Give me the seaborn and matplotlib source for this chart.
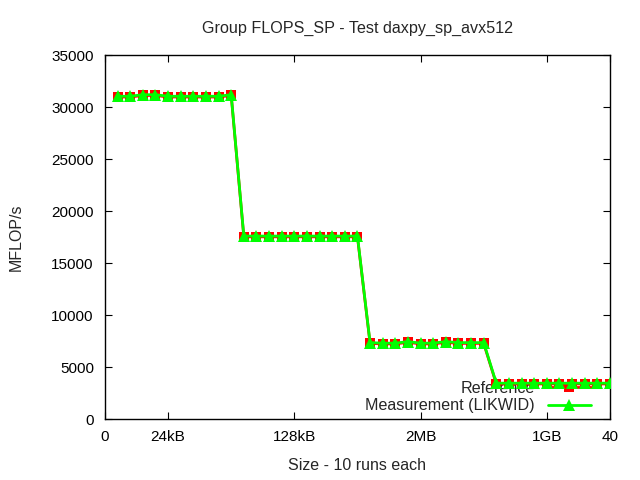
import numpy as np
import pandas as pd
import matplotlib
matplotlib.use("Agg")
import matplotlib.pyplot as plt
import seaborn as sns

# Values
runs = list(range(1, 41))
reference = [30980, 30980, 31130, 31130, 30980, 30980, 30980, 30980, 30980, 31130,
             17530, 17530, 17530, 17530, 17530, 17530, 17530, 17530, 17530, 17530,
             7280, 7230, 7230, 7380, 7230, 7230, 7380, 7280, 7280, 7280,
             3380, 3380, 3380, 3380, 3380, 3380, 3380, 3380, 3380, 3380]
measurement = [31050, 31050, 31200, 31200, 31050, 31050, 31050, 31050, 31050, 31200,
               17600, 17600, 17600, 17600, 17600, 17600, 17600, 17600, 17600, 17600,
               7350, 7300, 7300, 7450, 7300, 7300, 7450, 7350, 7350, 7350,
               3450, 3450, 3450, 3450, 3450, 3450, 3450, 3450, 3450, 3450]
tick_pos = [0, 5, 15, 25, 35, 40]
tick_labels = ["0", "24kB", "128kB", "2MB", "1GB", "40"]

df = pd.DataFrame({"run": runs, "Reference": reference, "Measurement (LIKWID)": measurement})

sns.set_style("ticks")
plt.rcParams["font.family"] = ["Liberation Sans", "DejaVu Sans"]

fig = plt.figure(figsize=(6.4, 4.8), dpi=100)
ax = fig.add_axes([0.164, 0.127, 0.789, 0.758])

sns.lineplot(data=df, x="run", y="Reference", ax=ax, color="#ff0000", marker="s",
             markersize=7, linewidth=2, markeredgewidth=0, label="Reference", zorder=3)
sns.lineplot(data=df, x="run", y="Measurement (LIKWID)", ax=ax, color="#00ff00", marker="^",
             markersize=8, linewidth=2, markeredgewidth=0, label="Measurement (LIKWID)", zorder=4)

ax.set_xlim(0, 40)
ax.set_ylim(0, 35000)
ax.set_xticks(tick_pos)
ax.set_xticklabels(tick_labels)
ax.set_yticks(np.arange(0, 35001, 5000))
ax.tick_params(direction="in", top=True, right=True, length=5, labelsize=11, colors="black", pad=8)
for s in ax.spines.values():
    s.set_linewidth(1)
    s.set_color("black")

ax.set_xlabel("Size - 10 runs each", fontsize=11.5, labelpad=10)
ax.set_ylabel("MFLOP/s", fontsize=11.5, labelpad=20)
ax.set_title("Group FLOPS_SP - Test daxpy_sp_avx512", fontsize=11.6, pad=16)

leg = ax.legend(loc="lower right", frameon=False, markerfirst=False, fontsize=11.6,
                handlelength=2.7, borderaxespad=0.3, labelspacing=0.15,
                bbox_to_anchor=(0.985, -0.015))
leg.set_zorder(1)

fig.savefig("out.png", dpi=100)
